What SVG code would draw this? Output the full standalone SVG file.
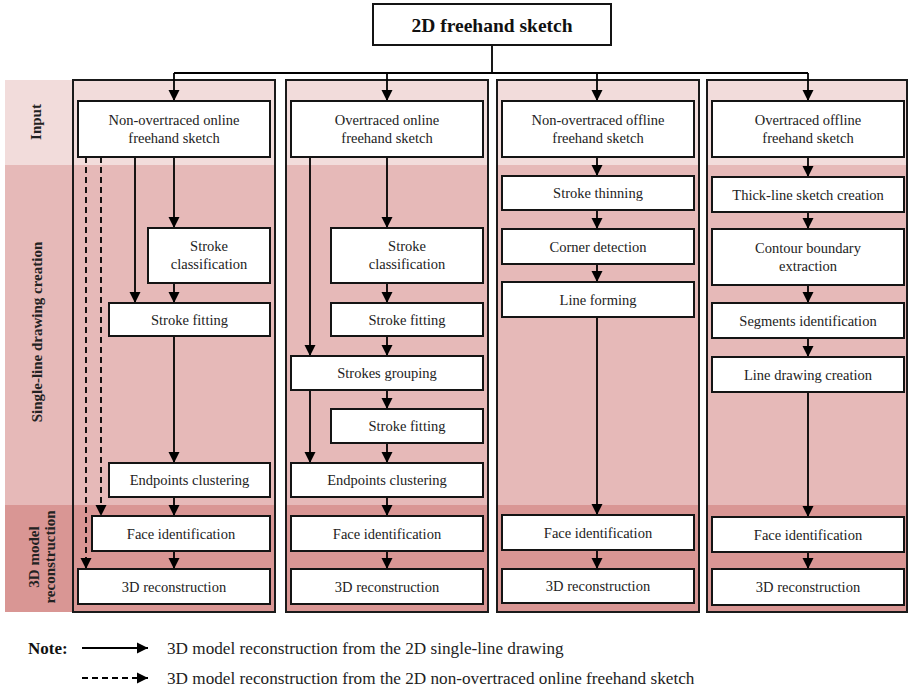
<svg xmlns="http://www.w3.org/2000/svg" width="908" height="695" viewBox="0 0 908 695">
  <style>
    .b-in { fill: #F2DCDB; }
    .b-sl { fill: #E6B9B8; }
    .b-3d { fill: #D99694; }
    .frame { fill: none; stroke: #1a1a1a; stroke-width: 2; }
    .box { fill: #ffffff; stroke: #141414; stroke-width: 2; }
    .t { font-family: "Liberation Serif", "Times New Roman", serif; font-size: 14.5px; fill: #222; text-anchor: middle; }
    .title { font-family: "Liberation Serif", "Times New Roman", serif; font-size: 19.5px; font-weight: bold; fill: #111; text-anchor: middle; }
    .lbl { font-family: "Liberation Serif", "Times New Roman", serif; font-size: 15px; font-weight: bold; fill: #222; text-anchor: middle; }
    .note { font-family: "Liberation Serif", "Times New Roman", serif; font-size: 17.2px; fill: #222; }
    .noteb { font-family: "Liberation Serif", "Times New Roman", serif; font-size: 17px; font-weight: bold; fill: #111; }
    .c { stroke: #000; stroke-width: 1.8; fill: none; }
    .arr { marker-end: url(#ah); }
    .dash { stroke-dasharray: 6 4; }
  </style>
  <defs>
    <marker id="ah" markerUnits="userSpaceOnUse" markerWidth="12" markerHeight="12" refX="11" refY="6" orient="auto">
      <path d="M0,0.5 L11,6 L0,11.5 z" fill="#000"/>
    </marker>
  </defs>

  <rect width="908" height="695" fill="#ffffff"/>

  <!-- stage bands: row labels on the left -->
  <g id="stage-labels">
    <rect class="b-in" x="5" y="80" width="68" height="85"/>
    <rect class="b-sl" x="5" y="165" width="68" height="340"/>
    <rect class="b-3d" x="5" y="505" width="68" height="107"/>
    <text class="lbl" transform="translate(41,122) rotate(-90)">Input</text>
    <text class="lbl" transform="translate(41.5,332) rotate(-90)">Single-line drawing creation</text>
    <text class="lbl" transform="translate(39,557) rotate(-90)">3D model</text>
    <text class="lbl" transform="translate(55,557) rotate(-90)">reconstruction</text>
  </g>

  <!-- column backgrounds and frames -->
  <g id="col1-frame">
    <rect class="b-in" x="73" y="80" width="202" height="85"/>
    <rect class="b-sl" x="73" y="165" width="202" height="340"/>
    <rect class="b-3d" x="73" y="505" width="202" height="107"/>
    <rect class="frame" x="73" y="80" width="202" height="532"/>
  </g>
  <g id="col2-frame">
    <rect class="b-in" x="286" y="80" width="202" height="85"/>
    <rect class="b-sl" x="286" y="165" width="202" height="340"/>
    <rect class="b-3d" x="286" y="505" width="202" height="107"/>
    <rect class="frame" x="286" y="80" width="202" height="532"/>
  </g>
  <g id="col3-frame">
    <rect class="b-in" x="497" y="80" width="202" height="85"/>
    <rect class="b-sl" x="497" y="165" width="202" height="340"/>
    <rect class="b-3d" x="497" y="505" width="202" height="107"/>
    <rect class="frame" x="497" y="80" width="202" height="532"/>
  </g>
  <g id="col4-frame">
    <rect class="b-in" x="707" y="80" width="200" height="85"/>
    <rect class="b-sl" x="707" y="165" width="200" height="340"/>
    <rect class="b-3d" x="707" y="505" width="200" height="107"/>
    <rect class="frame" x="707" y="80" width="200" height="532"/>
  </g>

  <!-- connectors -->
  <g id="connectors">
    <path class="c" d="M492,45 V73 M174,73 H808"/>
    <line class="c arr" x1="174" y1="73" x2="174" y2="101"/>
    <line class="c arr" x1="387" y1="73" x2="387" y2="101"/>
    <line class="c arr" x1="597" y1="73" x2="597" y2="101"/>
    <line class="c arr" x1="808" y1="73" x2="808" y2="101"/>

    <!-- column 1 -->
    <line class="c arr" x1="174" y1="157" x2="174" y2="228"/>
    <line class="c arr" x1="135" y1="157" x2="135" y2="303"/>
    <line class="c arr" x1="174" y1="283" x2="174" y2="303"/>
    <line class="c arr" x1="174" y1="336" x2="174" y2="463"/>
    <line class="c arr" x1="174" y1="497" x2="174" y2="516"/>
    <line class="c arr" x1="174" y1="551" x2="174" y2="569"/>
    <line class="c arr dash" x1="86" y1="157" x2="86" y2="569"/>
    <line class="c arr dash" x1="101" y1="157" x2="101" y2="516"/>

    <!-- column 2 -->
    <line class="c arr" x1="387" y1="157" x2="387" y2="228"/>
    <line class="c arr" x1="310" y1="157" x2="310" y2="356"/>
    <line class="c arr" x1="387" y1="283" x2="387" y2="303"/>
    <line class="c arr" x1="387" y1="336" x2="387" y2="356"/>
    <line class="c arr" x1="387" y1="390" x2="387" y2="409"/>
    <line class="c arr" x1="310" y1="390" x2="310" y2="463"/>
    <line class="c arr" x1="387" y1="443" x2="387" y2="463"/>
    <line class="c arr" x1="387" y1="497" x2="387" y2="516"/>
    <line class="c arr" x1="387" y1="551" x2="387" y2="569"/>

    <!-- column 3 -->
    <line class="c arr" x1="597" y1="157" x2="597" y2="176"/>
    <line class="c arr" x1="597" y1="210" x2="597" y2="229"/>
    <line class="c arr" x1="597" y1="264" x2="597" y2="282"/>
    <line class="c arr" x1="597" y1="317" x2="597" y2="515"/>
    <line class="c arr" x1="597" y1="550" x2="597" y2="569"/>

    <!-- column 4 -->
    <line class="c arr" x1="808" y1="157" x2="808" y2="177"/>
    <line class="c arr" x1="808" y1="212" x2="808" y2="229"/>
    <line class="c arr" x1="808" y1="285" x2="808" y2="303"/>
    <line class="c arr" x1="808" y1="338" x2="808" y2="357"/>
    <line class="c arr" x1="808" y1="392" x2="808" y2="517"/>
    <line class="c arr" x1="808" y1="552" x2="808" y2="569"/>
  </g>

  <!-- root -->
  <g id="sketch-root">
    <rect class="box" x="373" y="4" width="238" height="41"/>
    <text class="title" x="492" y="31.5">2D freehand sketch</text>
  </g>

  <!-- column 1: non-overtraced online -->
  <g id="c1-input"><rect class="box" x="78" y="101" width="192" height="56"/>
    <text class="t" x="174" y="124.5">Non-overtraced online</text><text class="t" x="174" y="142.5">freehand sketch</text></g>
  <g id="c1-classify"><rect class="box" x="148" y="228" width="122" height="55"/>
    <text class="t" x="209" y="251">Stroke</text><text class="t" x="209" y="269">classification</text></g>
  <g id="c1-fit"><rect class="box" x="109" y="303" width="161" height="33"/>
    <text class="t" x="189.5" y="324.5">Stroke fitting</text></g>
  <g id="c1-cluster"><rect class="box" x="109" y="463" width="161" height="34"/>
    <text class="t" x="189.5" y="485">Endpoints clustering</text></g>
  <g id="c1-face"><rect class="box" x="92" y="516" width="178" height="35"/>
    <text class="t" x="181" y="538.5">Face identification</text></g>
  <g id="c1-recon"><rect class="box" x="78" y="569" width="192" height="35"/>
    <text class="t" x="174" y="591.5">3D reconstruction</text></g>

  <!-- column 2: overtraced online -->
  <g id="c2-input"><rect class="box" x="291" y="101" width="192" height="56"/>
    <text class="t" x="387" y="124.5">Overtraced online</text><text class="t" x="387" y="142.5">freehand sketch</text></g>
  <g id="c2-classify"><rect class="box" x="331" y="228" width="152" height="55"/>
    <text class="t" x="407" y="251">Stroke</text><text class="t" x="407" y="269">classification</text></g>
  <g id="c2-fit"><rect class="box" x="331" y="303" width="152" height="33"/>
    <text class="t" x="407" y="324.5">Stroke fitting</text></g>
  <g id="c2-group"><rect class="box" x="291" y="356" width="192" height="34"/>
    <text class="t" x="387" y="378">Strokes grouping</text></g>
  <g id="c2-fit2"><rect class="box" x="331" y="409" width="152" height="34"/>
    <text class="t" x="407" y="431">Stroke fitting</text></g>
  <g id="c2-cluster"><rect class="box" x="291" y="463" width="192" height="34"/>
    <text class="t" x="387" y="485">Endpoints clustering</text></g>
  <g id="c2-face"><rect class="box" x="291" y="516" width="192" height="35"/>
    <text class="t" x="387" y="538.5">Face identification</text></g>
  <g id="c2-recon"><rect class="box" x="291" y="569" width="192" height="35"/>
    <text class="t" x="387" y="591.5">3D reconstruction</text></g>

  <!-- column 3: non-overtraced offline -->
  <g id="c3-input"><rect class="box" x="502" y="101" width="192" height="56"/>
    <text class="t" x="598" y="124.5">Non-overtraced offline</text><text class="t" x="598" y="142.5">freehand sketch</text></g>
  <g id="c3-thin"><rect class="box" x="502" y="176" width="192" height="34"/>
    <text class="t" x="598" y="198">Stroke thinning</text></g>
  <g id="c3-corner"><rect class="box" x="502" y="229" width="192" height="35"/>
    <text class="t" x="598" y="251.5">Corner detection</text></g>
  <g id="c3-line"><rect class="box" x="502" y="282" width="192" height="35"/>
    <text class="t" x="598" y="304.5">Line forming</text></g>
  <g id="c3-face"><rect class="box" x="502" y="515" width="192" height="35"/>
    <text class="t" x="598" y="537.5">Face identification</text></g>
  <g id="c3-recon"><rect class="box" x="502" y="569" width="192" height="34"/>
    <text class="t" x="598" y="591">3D reconstruction</text></g>

  <!-- column 4: overtraced offline -->
  <g id="c4-input"><rect class="box" x="712" y="101" width="192" height="56"/>
    <text class="t" x="808" y="124.5">Overtraced offline</text><text class="t" x="808" y="142.5">freehand sketch</text></g>
  <g id="c4-thick"><rect class="box" x="712" y="177" width="192" height="35"/>
    <text class="t" x="808" y="199.5">Thick-line sketch creation</text></g>
  <g id="c4-contour"><rect class="box" x="712" y="229" width="192" height="56"/>
    <text class="t" x="808" y="253">Contour boundary</text><text class="t" x="808" y="271">extraction</text></g>
  <g id="c4-segments"><rect class="box" x="712" y="303" width="192" height="35"/>
    <text class="t" x="808" y="325.5">Segments identification</text></g>
  <g id="c4-linedraw"><rect class="box" x="712" y="357" width="192" height="35"/>
    <text class="t" x="808" y="379.5">Line drawing creation</text></g>
  <g id="c4-face"><rect class="box" x="712" y="517" width="192" height="35"/>
    <text class="t" x="808" y="539.5">Face identification</text></g>
  <g id="c4-recon"><rect class="box" x="712" y="569" width="192" height="36"/>
    <text class="t" x="808" y="592">3D reconstruction</text></g>

  <!-- legend -->
  <g id="legend">
    <text class="noteb" x="28" y="653.5">Note:</text>
    <line class="c arr" x1="82" y1="648" x2="148" y2="648"/>
    <text class="note" x="167" y="653.5">3D model reconstruction from the 2D single-line drawing</text>
    <line class="c arr dash" x1="82" y1="678" x2="148" y2="678"/>
    <text class="note" x="167" y="683.5">3D model reconstruction from the 2D non-overtraced online freehand sketch</text>
  </g>
</svg>
